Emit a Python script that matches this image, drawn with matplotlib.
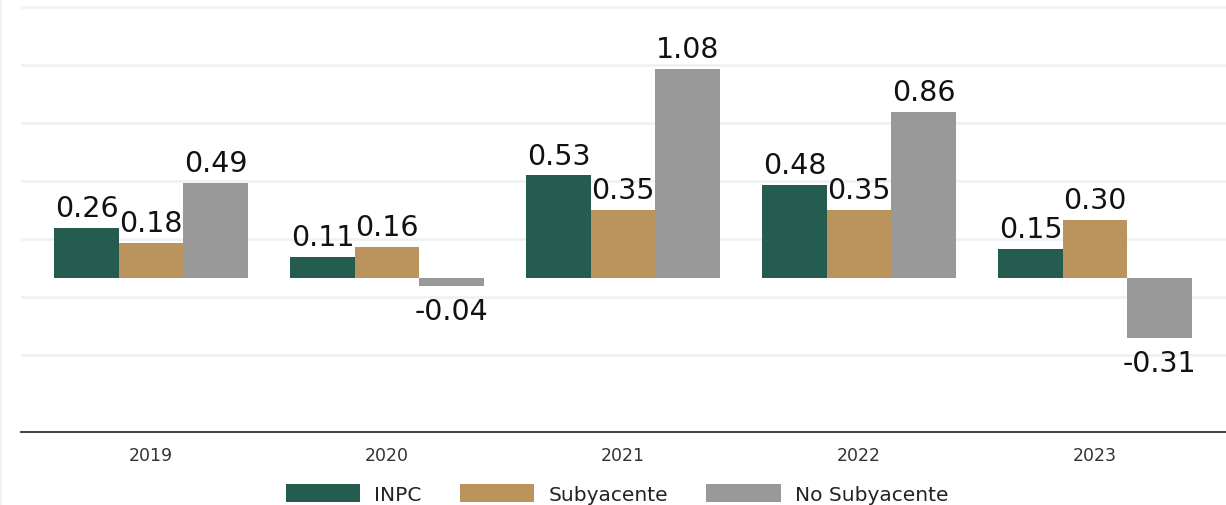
import matplotlib
matplotlib.use("Agg")
import matplotlib.pyplot as plt
from matplotlib.lines import Line2D
import numpy as np

plt.rcParams['font.family'] = ['DejaVu Sans']

years = ["2019", "2020", "2021", "2022", "2023"]
inpc = [0.26, 0.11, 0.53, 0.48, 0.15]
subyacente = [0.18, 0.16, 0.35, 0.35, 0.30]
no_subyacente = [0.49, -0.04, 1.08, 0.86, -0.31]
series_names = ["INPC", "Subyacente", "No Subyacente"]
colors = ["#245C4F", "#BA945C", "#999999"]
grid_vals = [-0.4, -0.1, 0.2, 0.5, 0.8, 1.1, 1.4]

W, H = 1226, 506
fig = plt.figure(figsize=(W / 100, H / 100), dpi=100)
ax = fig.add_axes([21 / W, 1 - 433 / H, 1 - 21 / W, 433 / H])

x = np.arange(len(years))
bw = 0.273
for i, (vals, name, c) in enumerate(zip([inpc, subyacente, no_subyacente], series_names, colors)):
    pos = x + (i - 1) * bw
    ax.bar(pos, vals, width=bw, color=c, label=name, zorder=3)
    for xp, v in zip(pos, vals):
        if v >= 0:
            ax.annotate(f"{v:.2f}", (xp, v), xytext=(0, 8.5), textcoords="offset points",
                        ha="center", va="baseline", fontsize=20.5, color="#111111", zorder=4)
        else:
            ax.annotate(f"{v:.2f}", (xp, v), xytext=(0, -8), textcoords="offset points",
                        ha="center", va="top", fontsize=20.5, color="#111111", zorder=4)

ax.set_xlim(-0.551, 4.555)
ax.set_ylim(-0.796, 1.442)
ax.set_yticks(grid_vals)
ax.yaxis.grid(True, color="#EEF2F5", linewidth=2, zorder=0)
ax.tick_params(axis="y", left=False, labelleft=False)
ax.set_xticks(x)
ax.set_xticklabels(years, fontsize=12.5, color="#333333")
ax.tick_params(axis="x", length=0, pad=10)
for s in ["top", "right", "left"]:
    ax.spines[s].set_visible(False)
ax.spines["bottom"].set_color("#333333")
ax.spines["bottom"].set_linewidth(1.3)

fig.add_artist(Line2D([1.5 / W, 1.5 / W], [0, 1], color="#EEF0F2", linewidth=1.2))

leg = fig.legend(loc="center", bbox_to_anchor=(617 / W, 1 - 495 / H), ncol=3, frameon=False,
                 fontsize=14.5, handlelength=3.7, handleheight=1.0, handletextpad=0.7,
                 columnspacing=1.9)
for t in leg.get_texts():
    t.set_color("#222222")

fig.savefig("out.png", dpi=100)
